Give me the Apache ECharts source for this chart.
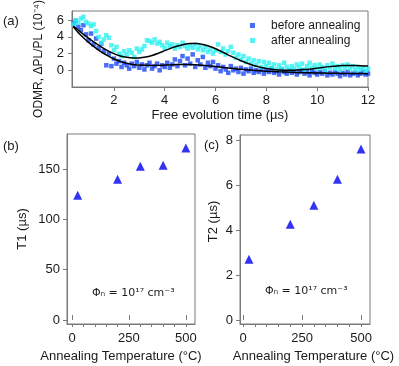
<!DOCTYPE html>
<html>
<head>
<meta charset="utf-8">
<script src="https://cdn.jsdelivr.net/npm/echarts@6/dist/echarts.min.js"></script>
<style>
  html, body { margin: 0; padding: 0; background: #fff; }
  #chart { width: 399px; height: 366px; }
</style>
</head>
<body>
<div id="chart"></div>
<script>
// (a) free evolution time (us) and ODMR signal (1e-4)
var evolTime = [
  0.4,0.5,0.6,0.7,0.8,0.9,1.0,1.1,1.2,1.3,
  1.4,1.5,1.6,1.7,1.8,1.9,2.0,2.1,2.2,2.3,
  2.4,2.5,2.6,2.7,2.8,2.9,3.0,3.1,3.2,3.3,
  3.4,3.5,3.6,3.7,3.8,3.9,4.0,4.1,4.2,4.3,
  4.4,4.5,4.6,4.7,4.8,4.9,5.0,5.1,5.2,5.3,
  5.4,5.5,5.6,5.7,5.8,5.9,6.0,6.1,6.2,6.3,
  6.4,6.5,6.6,6.7,6.8,6.9,7.0,7.1,7.2,7.3,
  7.4,7.5,7.6,7.7,7.8,7.9,8.0,8.1,8.2,8.3,
  8.4,8.5,8.6,8.7,8.8,8.9,9.0,9.1,9.2,9.3,
  9.4,9.5,9.6,9.7,9.8,9.9,10.0,10.1,10.2,10.3,
  10.4,10.5,10.6,10.7,10.8,10.9,11.0,11.1,11.2,11.3,
  11.4,11.5,11.6,11.7,11.8,11.9,12.0
];
var beforeAnneal = [
  5.6,5.9,5.2,4.8,5.4,4.3,3.6,4.4,3.1,3.8,
  2.7,3.2,2.3,0.6,2.0,0.5,1.4,0.8,1.1,0.4,
  0.9,0.6,0.2,0.8,0.5,1.0,0.3,0.7,0.1,0.6,
  0.9,0.2,0.5,0.8,0.0,0.6,0.4,0.9,0.3,0.7,
  1.3,0.5,1.1,1.7,0.6,1.4,0.8,1.9,0.4,1.2,
  0.7,1.6,0.3,0.9,0.5,1.0,0.2,0.6,-0.1,0.4,
  0.1,-0.3,0.5,0.0,0.2,-0.2,0.3,-0.4,0.1,-0.1,
  0.2,-0.3,0.0,-0.2,0.1,-0.4,0.0,-0.2,0.2,-0.3,
  -0.1,-0.5,0.1,-0.2,-0.4,0.0,-0.3,-0.1,-0.5,-0.2,
  0.0,-0.4,-0.2,-0.6,-0.1,-0.3,-0.5,-0.2,-0.4,-0.1,
  -0.6,-0.3,-0.5,-0.2,-0.4,-0.7,-0.3,-0.5,-0.2,-0.6,
  -0.4,-0.3,-0.6,-0.4,-0.2,-0.5,-0.4
];
var afterAnneal = [
  5.5,6.0,5.7,6.2,6.4,5.8,5.6,5.3,5.5,4.7,
  4.0,3.3,3.7,4.2,3.9,3.0,2.4,2.8,2.0,1.7,
  2.3,1.9,2.4,2.1,1.6,2.6,2.2,2.5,2.9,3.6,
  3.5,3.3,3.7,3.2,3.4,3.0,2.7,3.3,2.9,3.1,
  2.6,3.0,2.8,3.3,2.9,2.6,3.0,2.7,3.1,2.5,
  2.9,2.4,2.8,2.2,2.5,2.0,2.4,3.1,2.2,2.6,
  1.9,2.3,2.8,2.1,1.5,1.9,1.3,1.7,1.0,1.4,
  0.8,1.2,0.6,1.1,0.4,1.0,0.5,0.9,0.3,0.7,
  0.1,0.6,0.2,0.9,0.4,0.0,0.5,0.2,0.7,0.3,
  0.8,0.1,0.5,0.9,0.3,0.6,0.2,0.7,0.4,0.0,
  0.6,0.3,0.8,0.2,0.5,0.1,0.6,0.3,0.7,0.2,
  0.5,0.0,0.4,0.1,0.3,-0.1,0.2
];
// fitted curves
var fitBeforeT = [0.4,0.6,0.8,1.0,1.25,1.5,1.75,2.0,2.25,2.5,2.75,3.0,3.5,4.0,4.5,5.0,5.5,6.0,6.5,7.0,7.5,8.0,8.5,9.0,9.5,10.0,10.5,11.0,11.5,12.0];
var fitBeforeV = [5.2,4.5,3.9,3.35,2.75,2.2,1.75,1.35,1.05,0.85,0.7,0.62,0.58,0.62,0.68,0.68,0.6,0.45,0.28,0.12,0.0,-0.1,-0.18,-0.24,-0.28,-0.32,-0.35,-0.37,-0.39,-0.4];
var fitAfterT = [0.4,0.6,0.8,1.0,1.25,1.5,1.75,2.0,2.25,2.5,2.75,3.0,3.25,3.5,3.75,4.0,4.25,4.5,4.75,5.0,5.25,5.5,5.75,6.0,6.25,6.5,6.75,7.0,7.25,7.5,7.75,8.0,8.5,9.0,9.5,10.0,10.5,11.0,11.5,12.0];
var fitAfterV = [5.3,4.8,4.3,3.85,3.3,2.8,2.35,2.0,1.72,1.55,1.47,1.48,1.58,1.78,2.05,2.35,2.65,2.9,3.1,3.22,3.22,3.1,2.88,2.58,2.22,1.85,1.48,1.14,0.84,0.58,0.38,0.22,0.05,0.02,0.1,0.26,0.44,0.56,0.58,0.5];

// (b), (c) annealing series
var annealTemp = [25, 200, 300, 400, 500];
var t1Values = [124, 140, 153, 154, 171];
var t2Values = [2.7, 4.25, 5.1, 6.25, 7.6];

function zip(xs, ys) {
  var out = [];
  for (var i = 0; i < xs.length; i++) out.push([xs[i], ys[i]]);
  return out;
}

var FONT = 'Liberation Sans';
var FS = 13;
var frame = '#7a7a7a';
var ink = '#1a1a1a';

function axisBase(extra) {
  var a = {
    type: 'value',
    splitLine: { show: false },
    axisLine: { show: true, onZero: false, lineStyle: { color: frame, width: 1 } },
    axisTick: { show: true, inside: false, length: 4, lineStyle: { color: frame } },
    axisLabel: { color: ink, fontFamily: FONT, fontSize: FS },
    nameTextStyle: { color: ink, fontFamily: FONT, fontSize: FS }
  };
  for (var k in extra) a[k] = extra[k];
  return a;
}

var chart = echarts.init(document.getElementById('chart'));

var option = {
  animation: false,
  backgroundColor: '#fff',
  textStyle: { fontFamily: FONT },
  grid: [
    { left: 72, top: 11, width: 296, height: 76, show: true, borderColor: frame, borderWidth: 1, containLabel: false, outerBoundsMode: 'none' },
    { left: 67, top: 134, width: 128, height: 190, show: true, borderColor: frame, borderWidth: 1, containLabel: false, outerBoundsMode: 'none' },
    { left: 240, top: 135, width: 130, height: 189, show: true, borderColor: frame, borderWidth: 1, containLabel: false, outerBoundsMode: 'none' }
  ],
  legend: {
    data: ['before annealing', 'after annealing'],
    orient: 'vertical',
    left: 250,
    top: 19,
    padding: 0,
    icon: 'rect',
    itemWidth: 5,
    itemHeight: 5,
    itemGap: 2,
    textStyle: { color: ink, fontFamily: FONT, fontSize: 12, lineHeight: 13, padding: [0, 0, 0, 11] }
  },
  xAxis: [
    axisBase({
      gridIndex: 0, min: 0.35, max: 12,
      name: 'Free evolution time (µs)', nameLocation: 'middle', nameGap: 22,
      axisTick: { show: true, length: 4, lineStyle: { color: frame }, customValues: [2, 4, 6, 8, 10, 12] },
      axisLabel: { color: ink, fontFamily: FONT, fontSize: FS, margin: 7, customValues: [2, 4, 6, 8, 10, 12] }
    }),
    axisBase({
      gridIndex: 1, min: -22, max: 540,
      name: 'Annealing Temperature (°C)', nameLocation: 'middle', nameGap: 23,
      nameTextStyle: { color: ink, fontFamily: FONT, fontSize: FS, padding: [0, 20, 0, 0] },
      axisTick: { show: true, length: 3, lineStyle: { color: frame }, customValues: [0, 50, 100, 150, 200, 250, 300, 350, 400, 450, 500] },
      axisLabel: { color: ink, fontFamily: FONT, fontSize: FS, margin: 8, customValues: [0, 250, 500] }
    }),
    axisBase({
      gridIndex: 1, min: -22, max: 540,
      axisLine: { show: false },
      axisTick: { show: true, length: 5, lineStyle: { color: frame }, customValues: [0, 250, 500] },
      axisLabel: { show: false }
    }),
    axisBase({
      gridIndex: 2, min: -13, max: 538,
      name: 'Annealing Temperature (°C)', nameLocation: 'middle', nameGap: 23,
      nameTextStyle: { color: ink, fontFamily: FONT, fontSize: FS, padding: [0, 0, 0, 17] },
      axisTick: { show: true, length: 3, lineStyle: { color: frame }, customValues: [0, 50, 100, 150, 200, 250, 300, 350, 400, 450, 500] },
      axisLabel: { color: ink, fontFamily: FONT, fontSize: FS, margin: 8, customValues: [0, 250, 500] }
    }),
    axisBase({
      gridIndex: 2, min: -13, max: 538,
      axisLine: { show: false },
      axisTick: { show: true, length: 5, lineStyle: { color: frame }, customValues: [0, 250, 500] },
      axisLabel: { show: false }
    })
  ],
  yAxis: [
    axisBase({
      gridIndex: 0, min: -2, max: 7.1,
      name: 'ODMR, ΔPL/PL (10⁻⁴)', nameLocation: 'middle', nameGap: 27,
      nameTextStyle: { color: ink, fontFamily: FONT, fontSize: 12, padding: [0, 20, 0, 0] },
      axisTick: { show: true, length: 4, lineStyle: { color: frame }, customValues: [0, 2, 4, 6] },
      axisLabel: { color: ink, fontFamily: FONT, fontSize: FS, margin: 8, customValues: [0, 2, 4, 6] }
    }),
    axisBase({
      gridIndex: 1, min: -4, max: 185,
      name: 'T1 (µs)', nameLocation: 'middle', nameGap: 38,
      axisTick: { show: true, length: 4, lineStyle: { color: frame }, customValues: [0, 50, 100, 150] },
      axisLabel: { color: ink, fontFamily: FONT, fontSize: FS, margin: 7, customValues: [0, 50, 100, 150] }
    }),
    axisBase({
      gridIndex: 2, min: -0.18, max: 8.22,
      name: 'T2 (µs)', nameLocation: 'middle', nameGap: 20,
      nameTextStyle: { color: ink, fontFamily: FONT, fontSize: FS, padding: [0, 0, 0, 16] },
      axisTick: { show: true, length: 4, lineStyle: { color: frame }, customValues: [0, 2, 4, 6, 8] },
      axisLabel: { color: ink, fontFamily: FONT, fontSize: FS, margin: 7, customValues: [0, 2, 4, 6, 8] }
    })
  ],
  series: [
    {
      name: 'before annealing', type: 'scatter', xAxisIndex: 0, yAxisIndex: 0,
      symbol: 'rect', symbolSize: 4.5,
      itemStyle: { color: '#1c48f2' },
      data: zip(evolTime, beforeAnneal)
    },
    {
      name: 'after annealing', type: 'scatter', xAxisIndex: 0, yAxisIndex: 0,
      symbol: 'rect', symbolSize: 4.5,
      itemStyle: { color: '#2ef0f0' },
      data: zip(evolTime, afterAnneal)
    },
    {
      name: 'fit before', type: 'line', xAxisIndex: 0, yAxisIndex: 0,
      smooth: 0.3, showSymbol: false, z: 5,
      lineStyle: { color: '#000', width: 1.5 },
      data: zip(fitBeforeT, fitBeforeV)
    },
    {
      name: 'fit after', type: 'line', xAxisIndex: 0, yAxisIndex: 0,
      smooth: 0.3, showSymbol: false, z: 5,
      lineStyle: { color: '#000', width: 1.5 },
      data: zip(fitAfterT, fitAfterV)
    },
    {
      name: 'T1', type: 'scatter', xAxisIndex: 1, yAxisIndex: 1,
      symbol: 'triangle', symbolSize: 9,
      itemStyle: { color: '#0000f0' },
      data: zip(annealTemp, t1Values)
    },
    {
      name: 'T2', type: 'scatter', xAxisIndex: 3, yAxisIndex: 2,
      symbol: 'triangle', symbolSize: 9,
      itemStyle: { color: '#0000f0' },
      data: zip(annealTemp, t2Values)
    }
  ],
  graphic: [
    { type: 'text', left: 3, top: 15, style: { text: '(a)', fill: ink, font: '13px "Liberation Sans"' } },
    { type: 'text', left: 3, top: 140, style: { text: '(b)', fill: ink, font: '13px "Liberation Sans"' } },
    { type: 'text', left: 204, top: 139, style: { text: '(c)', fill: ink, font: '13px "Liberation Sans"' } },
    { type: 'text', left: 92, top: 288, style: { text: 'Φₙ = 10¹⁷ cm⁻³', fill: ink, font: '11px "DejaVu Sans"' } },
    { type: 'text', left: 265, top: 286, style: { text: 'Φₙ = 10¹⁷ cm⁻³', fill: ink, font: '11px "DejaVu Sans"' } }
  ]
};

chart.setOption(option);
</script>
</body>
</html>
